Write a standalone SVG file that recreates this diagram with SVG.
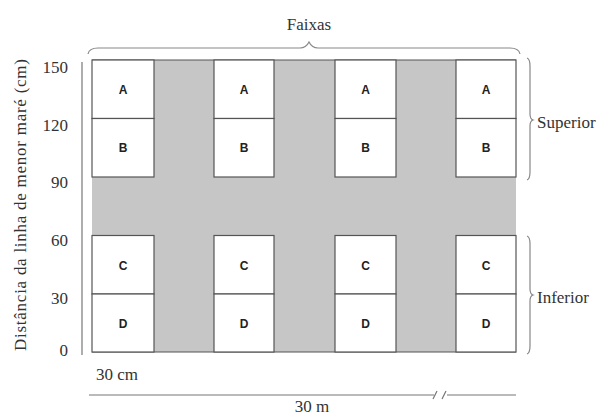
<svg xmlns="http://www.w3.org/2000/svg" width="606" height="418" viewBox="0 0 606 418">
<style>
.bg{fill:#ffffff}
.gray{fill:#c6c6c6}
.cell{fill:#ffffff;stroke:#555;stroke-width:1.2}
.edge{stroke:#555;stroke-width:1.2;fill:none}
.lbl{font-family:"Liberation Sans",Arial,sans-serif;font-weight:bold;font-size:12px;fill:#222;text-anchor:middle}
.serif{font-family:"Liberation Serif","Times New Roman",serif;font-size:17px;fill:#333}
.tick{text-anchor:end}
.brace{fill:none;stroke:#888;stroke-width:1.2}
.axis{stroke:#777;stroke-width:1.2;fill:none}
</style>
<rect class="bg" x="0" y="0" width="606" height="418"/>
<g id="field">
<rect class="gray" x="92" y="60" width="424" height="292"/>
<line class="edge" x1="92" y1="60" x2="516" y2="60"/>
<line class="edge" x1="92" y1="352" x2="516" y2="352"/>
</g>
<g id="col1">
<rect class="cell" x="92" y="60" width="62" height="58.5"/>
<rect class="cell" x="92" y="118.5" width="62" height="58.5"/>
<rect class="cell" x="92" y="235.5" width="62" height="58.5"/>
<rect class="cell" x="92" y="294" width="62" height="58"/>
<text class="lbl" x="123" y="94">A</text>
<text class="lbl" x="123" y="152">B</text>
<text class="lbl" x="123" y="270">C</text>
<text class="lbl" x="123" y="328">D</text>
</g>
<g id="col2">
<rect class="cell" x="214" y="60" width="60" height="58.5"/>
<rect class="cell" x="214" y="118.5" width="60" height="58.5"/>
<rect class="cell" x="214" y="235.5" width="60" height="58.5"/>
<rect class="cell" x="214" y="294" width="60" height="58"/>
<text class="lbl" x="244" y="94">A</text>
<text class="lbl" x="244" y="152">B</text>
<text class="lbl" x="244" y="270">C</text>
<text class="lbl" x="244" y="328">D</text>
</g>
<g id="col3">
<rect class="cell" x="335" y="60" width="61" height="58.5"/>
<rect class="cell" x="335" y="118.5" width="61" height="58.5"/>
<rect class="cell" x="335" y="235.5" width="61" height="58.5"/>
<rect class="cell" x="335" y="294" width="61" height="58"/>
<text class="lbl" x="365.5" y="94">A</text>
<text class="lbl" x="365.5" y="152">B</text>
<text class="lbl" x="365.5" y="270">C</text>
<text class="lbl" x="365.5" y="328">D</text>
</g>
<g id="col4">
<rect class="cell" x="456" y="60" width="60" height="58.5"/>
<rect class="cell" x="456" y="118.5" width="60" height="58.5"/>
<rect class="cell" x="456" y="235.5" width="60" height="58.5"/>
<rect class="cell" x="456" y="294" width="60" height="58"/>
<text class="lbl" x="486" y="94">A</text>
<text class="lbl" x="486" y="152">B</text>
<text class="lbl" x="486" y="270">C</text>
<text class="lbl" x="486" y="328">D</text>
</g>
<g id="connectors">
<line class="axis" x1="82" y1="62" x2="82" y2="355"/>
<path class="brace" d="M88,54 Q89,48 98,48 L300,48 Q306,48 309,42 Q312,48 318,48 L510,48 Q519,48 520,54"/>
<path class="brace" d="M527,58 Q530,59 530,66 L530,114 Q530,119 533,120 Q530,121 530,126 L530,172 Q530,179 527,180"/>
<path class="brace" d="M527,236 Q530,237 530,244 L530,289 Q530,294 533,295 Q530,296 530,301 L530,346 Q530,353 527,354"/>
<path class="axis" d="M89,395 L434,395 M447,395 L516,395"/>
<path class="axis" d="M433,399 L437,391 M442,399 L446,391"/>
</g>
<g id="texts">
<text class="serif" x="309" y="30" text-anchor="middle">Faixas</text>
<text class="serif tick" x="68" y="73">150</text>
<text class="serif tick" x="68" y="131">120</text>
<text class="serif tick" x="68" y="188">90</text>
<text class="serif tick" x="68" y="246">60</text>
<text class="serif tick" x="68" y="304">30</text>
<text class="serif tick" x="68" y="356">0</text>
<text class="serif" x="537" y="128">Superior</text>
<text class="serif" x="537" y="303">Inferior</text>
<text class="serif" x="96" y="380">30 cm</text>
<text class="serif" x="312" y="412" text-anchor="middle">30 m</text>
<text class="serif" transform="translate(26,205) rotate(-90)" text-anchor="middle" textLength="292">Distância da linha de menor maré (cm)</text>
</g>
</svg>
